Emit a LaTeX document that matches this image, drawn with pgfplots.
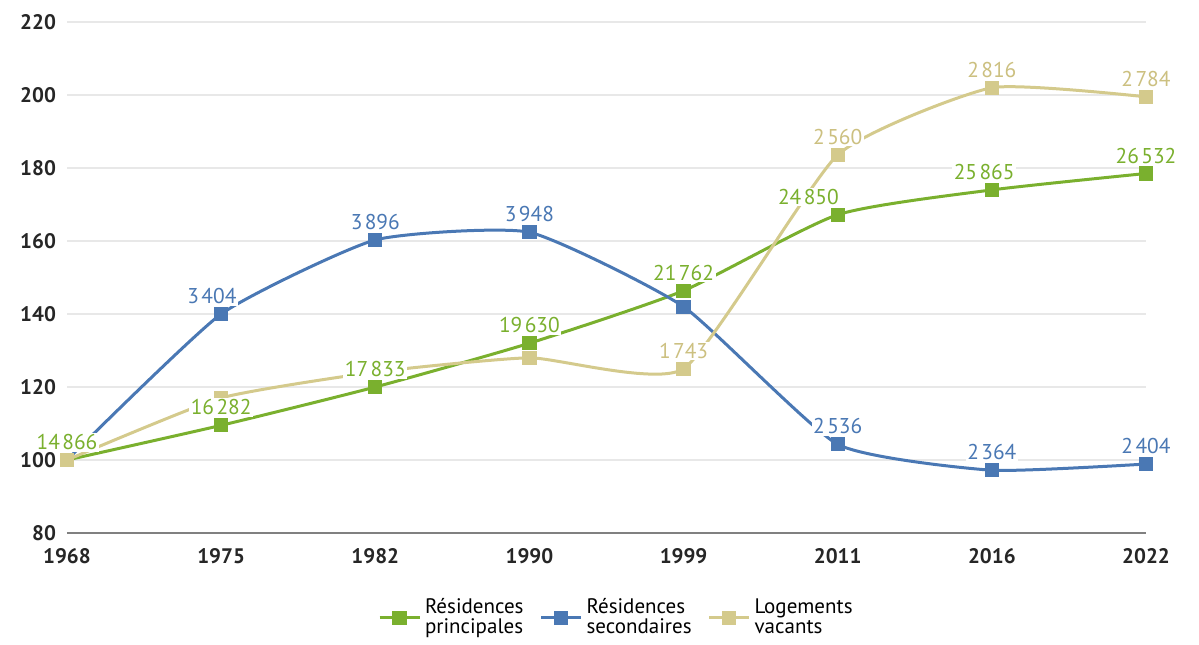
\documentclass[border=0pt]{standalone}
\usepackage{pgfplots}
\pgfplotsset{compat=1.18}
\usepackage{fontspec}
\setmainfont{PT Sans}
\definecolor{cg}{HTML}{7AB02E}
\definecolor{cb}{HTML}{4A78B4}
\definecolor{ct}{HTML}{D4CA8C}
\definecolor{ctl}{HTML}{CCC080}
\newcommand\nn[2]{#1\kern1.2pt#2}
\begin{document}
\begin{tikzpicture}
\begin{axis}[
  scale only axis, width=539.5pt, height=255.5pt,
  xmin=0, xmax=7, ymin=80, ymax=220,
  xtick={0,...,7}, xticklabels={1968,1975,1982,1990,1999,2011,2016,2022},
  ytick={80,100,...,220},
  ymajorgrids, grid style={color=black!9, line width=0.7pt},
  axis x line*=bottom, axis y line*=left,
  y axis line style={draw=none},
  x axis line style={draw=black!50, line width=1pt, -},
  major tick length=0pt,
  /pgf/number format/assume math mode=true,
  tick label style={font=\fontsize{10.5}{12}\selectfont\bfseries, color=black!85},
  yticklabel style={xshift=-2pt},
  xticklabel style={yshift=-4pt},
  clip=false,
  legend style={at={(0.51,-0.112)}, anchor=north, draw=none, legend columns=3,
    font=\fontsize{10.5}{10}\selectfont, cells={align=left, anchor=west},
    /tikz/every even column/.append style={column sep=6pt}},
  legend image code/.code={\draw[mark repeat=2, mark phase=2] plot coordinates {(0pt,0pt) (10pt,0pt) (20pt,0pt)};},
  every axis plot/.append style={line width=1.5pt},
  every node near coord/.append style={font=\fontsize{10.7}{12}\selectfont, fill=white, inner sep=0.8pt, anchor=south, yshift=3.5pt},
]
\coordinate (sw) at (rel axis cs:0,0);
\coordinate (ne) at (rel axis cs:1,1);
% lines
\addplot[cg, smooth, tension=0.35, mark=square*, mark size=3.3pt, mark options={rounded corners=0.8pt, line width=0pt}]
 coordinates {(0,100) (1,109.5) (2,120.0) (3,132.0) (4,146.4) (5,167.2) (6,174.0) (7,178.5)};
\addlegendentry{Résidences\\principales}
\addplot[cb, smooth, tension=0.3, mark=square*, mark size=3.3pt, mark options={rounded corners=0.8pt, line width=0pt}]
 coordinates {(0,100) (1,140.0) (2,160.3) (3,162.4) (4,142.0) (5,104.3) (6,97.2) (7,98.9)};
\addlegendentry{Résidences\\secondaires}
\addplot[ct, smooth, tension=0.3, mark=square*, mark size=3.3pt, mark options={rounded corners=0.8pt, line width=0pt}]
 coordinates {(0,100) (1,117.0) (2,124.1) (3,128.0) (4,125.0) (5,183.6) (6,202.0) (7,199.5)};
\addlegendentry{Logements\\vacants}
% labels
\addplot[draw=none, forget plot, nodes near coords, point meta=explicit symbolic,
  every node near coord/.append style={text=ctl}]
 coordinates {(4,125.0)[\nn{1}{743}] (5,183.6)[\nn{2}{560}] (6,202.0)[\nn{2}{816}] (7,199.5)[\nn{2}{784}]};
\addplot[draw=none, forget plot, nodes near coords, point meta=explicit symbolic,
  every node near coord/.append style={text=cb}]
 coordinates {(0.94,140.0)[\nn{3}{404}] (2,160.3)[\nn{3}{896}] (3,162.4)[\nn{3}{948}] (5,104.3)[\nn{2}{536}] (6,97.2)[\nn{2}{364}] (7,98.9)[\nn{2}{404}]};
\addplot[draw=none, forget plot, nodes near coords, point meta=explicit symbolic,
  every node near coord/.append style={text=cg}]
 coordinates {(0,100)[\nn{14}{866}] (1,109.5)[\nn{16}{282}] (2,120.0)[\nn{17}{833}] (3,132.0)[\nn{19}{630}] (4,146.4)[\nn{21}{762}] (4.81,167.2)[\nn{24}{850}] (5.95,174.0)[\nn{25}{865}] (7,178.5)[\nn{26}{532}]};
\end{axis}
\pgfresetboundingbox
\useasboundingbox ([shift={(-33.5pt,-55.5pt)}]sw) rectangle ([shift={(26.5pt,11pt)}]ne);
\end{tikzpicture}
\end{document}
